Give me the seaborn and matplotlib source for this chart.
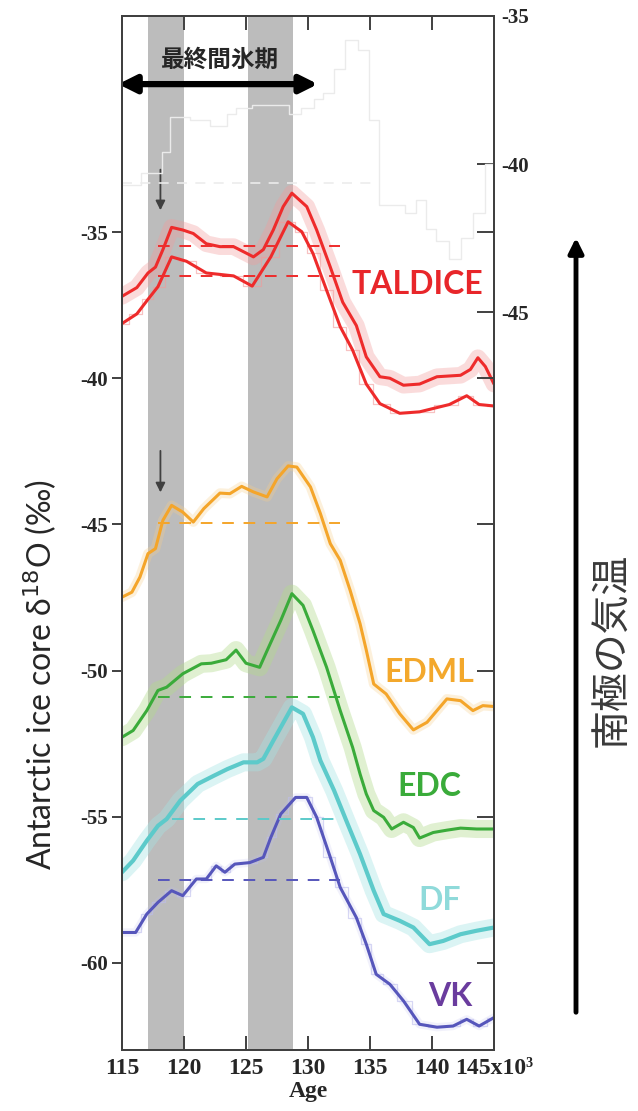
import numpy as np
import pandas as pd
import matplotlib.pyplot as plt
import seaborn as sns
from matplotlib.patches import FancyArrowPatch
from matplotlib.transforms import ScaledTranslation

# --- Datos (edad en ka, d18O en permil) ---
TALDICE_AGE = [115.0, 116.2, 117.1, 117.7, 118.3, 119.0, 119.9, 120.75, 121.8, 122.9, 124.0, 125.06,
               125.6, 126.4, 127.2, 128.0, 128.7, 129.9, 130.7, 131.8, 132.8, 133.9, 134.7, 135.8,
               136.6, 137.7, 139.0, 140.4, 142.3, 143.1, 143.7, 144.3, 145.0]
TALDICE_UP = [-37.2, -36.9, -36.4, -36.2, -35.6, -34.84, -34.93, -35.05, -35.4, -35.5, -35.5, -35.73,
              -35.85, -35.6, -34.93, -34.13, -33.67, -34.13, -34.93, -36.2, -37.4, -38.2, -39.27, -39.95,
              -40.0, -40.24, -40.2, -39.95, -39.9, -39.7, -39.3, -39.6, -40.2]
TALDICE_LOW_AGE = [115.0, 116.2, 117.1, 117.9, 119.0, 120.2, 121.8, 124.0, 125.5, 127.0, 128.4, 129.5,
                   130.4, 131.5, 132.6, 133.6, 134.7, 135.8, 137.4, 139.0, 141.4, 142.8, 143.8, 145.0]
TALDICE_LOW = [-38.13, -37.8, -37.3, -36.87, -35.85, -36.0, -36.4, -36.5, -36.85, -35.85, -34.65, -34.99,
               -35.73, -36.99, -38.24, -39.04, -40.2, -40.87, -41.2, -41.15, -40.9, -40.6, -40.9, -40.95]

EDML_AGE = [115.0, 115.8, 116.45, 117.1, 117.7, 118.3, 119.0, 119.9, 120.75, 121.6, 122.9, 123.7, 124.65,
            125.6, 126.7, 127.5, 128.4, 129.1, 130.2, 131.0, 131.8, 132.6, 133.4, 134.2, 134.7, 135.3,
            136.3, 137.4, 138.5, 139.6, 140.4, 141.2, 142.3, 143.3, 144.1, 145.0]
EDML = [-47.49, -47.32, -46.8, -46.0, -45.83, -44.86, -44.35, -44.58, -44.92, -44.46, -43.93, -43.95, -43.7,
        -43.89, -44.06, -43.44, -43.0, -43.04, -43.72, -44.63, -45.66, -46.23, -47.26, -48.4, -49.3, -50.46,
        -50.8, -51.48, -52.03, -51.77, -51.37, -50.97, -51.03, -51.37, -51.2, -51.23]

EDC_AGE = [115.0, 115.9, 117.0, 117.9, 118.6, 119.9, 121.4, 122.2, 123.4, 124.2, 125.0, 126.1, 126.7,
           127.8, 128.7, 129.6, 130.4, 131.5, 132.6, 133.6, 134.2, 134.7, 135.3, 136.1, 136.75, 137.7,
           138.5, 139.0, 140.1, 141.2, 142.3, 143.6, 145.0]
EDC = [-52.28, -52.05, -51.37, -50.68, -50.57, -50.11, -49.77, -49.75, -49.63, -49.3, -49.75, -49.89, -49.32,
       -48.29, -47.37, -47.77, -48.63, -49.89, -51.37, -52.63, -53.54, -54.22, -54.79, -55.02, -55.42, -55.19,
       -55.37, -55.73, -55.54, -55.46, -55.39, -55.42, -55.42]

DF_AGE = [115.0, 115.9, 117.0, 117.9, 118.6, 119.7, 121.1, 122.4, 123.5, 124.8, 125.9, 126.4, 127.2,
          128.7, 129.6, 130.4, 131.0, 132.1, 133.2, 134.2, 135.3, 136.1, 137.4, 138.5, 139.8, 140.9,
          142.3, 143.6, 145.0]
DF = [-56.9, -56.5, -55.82, -55.31, -55.08, -54.45, -53.88, -53.6, -53.37, -53.14, -53.14, -53.02, -52.4,
      -51.26, -51.48, -52.28, -53.08, -54.1, -55.25, -56.28, -57.53, -58.33, -58.56, -58.79, -59.36, -59.25,
      -59.02, -58.9, -58.79]

VK_AGE = [115.0, 116.1, 117.0, 117.9, 119.0, 119.9, 121.0, 121.8, 122.6, 123.3, 124.1, 125.3, 126.4,
          127.0, 127.8, 129.0, 129.9, 130.7, 131.8, 132.6, 133.9, 134.7, 135.5, 136.6, 137.7, 139.0,
          140.4, 141.7, 142.8, 143.8, 145.0]
VK = [-58.96, -58.96, -58.33, -57.93, -57.53, -57.7, -57.13, -57.13, -56.68, -56.9, -56.62, -56.57, -56.39,
      -55.71, -54.91, -54.34, -54.34, -55.02, -56.39, -57.42, -58.45, -59.36, -60.39, -60.73, -61.3, -62.1,
      -62.2, -62.16, -61.93, -62.16, -61.87]

# registro gris en escalones (eje derecho)
GREY_AGE = [115.0, 116.5, 118.2, 118.9, 120.5, 122.1, 123.5, 124.2, 125.5, 128.5, 129.4, 130.5, 131.2,
            132.1, 133.0, 134.0, 134.9, 135.7, 137.8, 138.7, 139.5, 140.3, 141.4, 142.3, 143.3, 144.3, 145.0]
GREY = [-40.7, -40.3, -39.6, -38.4, -38.5, -38.7, -38.3, -38.1, -38.0, -38.3, -38.1, -37.8, -37.6,
        -36.8, -35.8, -36.15, -38.5, -41.4, -41.65, -41.2, -42.2, -42.6, -43.2, -42.5, -41.65, -40.0, -40.0]

# niveles de referencia (lineas discontinuas): (valor, inicio, fin)
REF_LEVELS = {
    'TALDICE_up': (-35.48, 117.9, 132.6),
    'TALDICE_low': (-36.5, 117.9, 132.6),
    'EDML': (-44.94, 117.9, 132.6),
    'EDC': (-50.89, 117.9, 132.6),
    'DF': (-55.08, 119.0, 132.3),
    'VK': (-57.16, 117.9, 132.6),
}
GREY_REF = (-40.64, 115.0, 135.6)

SHADED = [(117.1, 120.0), (125.2, 128.8)]
X_TICKS = [115, 120, 125, 130, 135, 140, 145]
Y_TICKS = [-35, -40, -45, -50, -55, -60]
Y2_TICKS = [-35, -40, -45]

COLORS = {'TALDICE': '#ee2b2b', 'EDML': '#f4a52a', 'EDC': '#3aab3a', 'DF': '#5ccaca', 'VK': '#5656bb'}
HALO = {'TALDICE': '#f39a9a', 'EDML': '#f8cf8a', 'EDC': '#b2db8c', 'DF': '#a6e4e4', 'VK': '#bdbdee'}
LABEL_COLORS = {'TALDICE': '#e8262a', 'EDML': '#f3a82c', 'EDC': '#3aab3a', 'DF': '#8fdada', 'VK': '#6a3c9e'}

sns.set_style('ticks')
plt.rcParams['font.family'] = ['Liberation Serif', 'DejaVu Sans']

fig = plt.figure(figsize=(6.38, 11.11), dpi=100)
ax = fig.add_axes([0.1912, 0.0549, 0.5831, 0.9307])
YLIM = (-62.98, -27.61)
Y2LIM = (-69.93, -35.0)
ax.set_xlim(115, 145)
ax.set_ylim(*YLIM)

ax2 = ax.twinx()
ax2.set_ylim(*Y2LIM)

for a, b in SHADED:
    ax.axvspan(a, b, color='#bcbcbc', lw=0, zorder=0)

# registro gris (muy tenue)
sns.lineplot(x=GREY_AGE, y=GREY, ax=ax2, color='#ebebeb', lw=1.0, drawstyle='steps-post', zorder=1)
ax2.hlines(GREY_REF[0], GREY_REF[1], GREY_REF[2], colors='#ececec', lw=1.2, linestyles=(0, (6, 5)))


def draw_series(age, val, name, lw=2.2, halo=10.0, halo_alpha=0.35, steps=False):
    # banda tenue que imita los datos brutos
    if halo_alpha > 0:
        ax.plot(age, val, color=HALO[name], lw=halo, alpha=halo_alpha, solid_joinstyle='round', zorder=2)
    if steps:
        ax.plot(age, val, color=HALO[name], lw=0.9, alpha=0.6, drawstyle='steps-mid', zorder=2)
    sns.lineplot(x=age, y=val, ax=ax, color=COLORS[name], lw=lw, sort=False, zorder=3)
    ax.lines[-1].set_solid_joinstyle('round')


draw_series(TALDICE_AGE, TALDICE_UP, 'TALDICE', halo=12, halo_alpha=0.35)
draw_series(TALDICE_LOW_AGE, TALDICE_LOW, 'TALDICE', halo_alpha=0.0, steps=True)
draw_series(EDML_AGE, EDML, 'EDML', halo=7, halo_alpha=0.3)
draw_series(EDC_AGE, EDC, 'EDC', halo=13, halo_alpha=0.4)
draw_series(DF_AGE, DF, 'DF', lw=3.0, halo=13, halo_alpha=0.4)
draw_series(VK_AGE, VK, 'VK', halo=6, halo_alpha=0.2, steps=True)

ref_colors = {'TALDICE_up': 'TALDICE', 'TALDICE_low': 'TALDICE', 'EDML': 'EDML',
              'EDC': 'EDC', 'DF': 'DF', 'VK': 'VK'}
for key, (lvl, x0, x1) in REF_LEVELS.items():
    ax.hlines(lvl, x0, x1, colors=COLORS[ref_colors[key]], lw=1.4, linestyles=(0, (6, 5)), zorder=3)

# etiquetas de las series
label_pos = {'TALDICE': (138.8, -36.78), 'EDML': (139.8, -50.08), 'EDC': (139.8, -53.98),
             'DF': (140.6, -57.85), 'VK': (141.45, -61.16)}
for name, (xx, yy) in label_pos.items():
    ax.text(xx, yy, name, color=LABEL_COLORS[name], fontsize=23, fontweight='bold',
            family=['Lato', 'DejaVu Sans'], ha='center', va='center', zorder=5)

# flechas pequenas
for y0, y1 in [(-32.77, -34.35), (-42.39, -44.0)]:
    ax.annotate('', xy=(118.1, y1), xytext=(118.1, y0),
                arrowprops=dict(arrowstyle='-|>', color='#404040', lw=1.3, mutation_scale=14))

# periodo interglaciar
ax.annotate('', xy=(114.7, -29.94), xytext=(130.8, -29.94), annotation_clip=False,
            arrowprops=dict(arrowstyle='<|-|>', color='black', lw=4.5, mutation_scale=26,
                            shrinkA=0, shrinkB=0))
ax.text(122.9, -29.1, '最終間氷期', fontsize=17, fontweight='bold', ha='center', va='center',
        family=['Noto Sans CJK JP', 'DejaVu Sans'])

# ejes y ticks
tick_font = dict(family=['Liberation Serif'], weight='bold')
ax.set_xticks(X_TICKS)
xlabels = [str(t) for t in X_TICKS]
xlabels[-1] = '145x10³'
ax.set_xticklabels(xlabels, fontsize=17, **tick_font)
# las dos ultimas etiquetas quedan pegadas como en el original
shifts = {5: 12, 6: 22}
for i, lab in enumerate(ax.get_xticklabels()):
    if i in shifts:
        lab.set_transform(lab.get_transform() + ScaledTranslation(shifts[i] / 100, 0, fig.dpi_scale_trans))
ax.set_yticks(Y_TICKS)
ax.set_yticklabels([str(t) for t in Y_TICKS], fontsize=15, **tick_font)
ax.tick_params(axis='x', direction='in', top=True, bottom=True, length=10, width=1.4,
               color='#404040', pad=6)
ax.tick_params(axis='y', direction='out', left=True, right=False, length=7, width=1.4,
               color='#404040', pad=3)

ax2.set_yticks(Y2_TICKS)
ax2.set_yticklabels([str(t) for t in Y2_TICKS], fontsize=15, **tick_font)
mapped = [Y2LIM[0] + (v - YLIM[0]) * (Y2LIM[1] - Y2LIM[0]) / (YLIM[1] - YLIM[0]) for v in Y_TICKS]
ax2.set_yticks(mapped, minor=True)
ax2.tick_params(axis='y', which='major', direction='in', length=12, width=1.4, color='#404040', pad=5)
ax2.tick_params(axis='y', which='minor', direction='in', length=12, width=1.4, color='#404040')

for a in (ax, ax2):
    for sp in a.spines.values():
        sp.set_color('#404040')
        sp.set_linewidth(1.4)
        sp.set_visible(True)
    a.grid(False)

ax.set_xlabel('Age', fontsize=17, fontweight='bold', family=['Liberation Serif'], labelpad=1)
ax.set_ylabel('')
ax2.set_ylabel('')

fig.text(40 / 638, 1 - 675 / 1111, 'Antarctic ice core δ$^{18}$O (‰)', rotation=90, fontsize=23,
         ha='center', va='center', family=['Lato', 'DejaVu Sans'])

# flecha grande y texto japones a la derecha
fig.add_artist(FancyArrowPatch(
    (576 / 638, 1 - 1015 / 1111), (576 / 638, 1 - 235 / 1111), transform=fig.transFigure,
    arrowstyle='-|>', mutation_scale=22, lw=3.5, color='black'))
fig.text(612 / 638, 1 - 650 / 1111, '南極の気温', rotation=90, fontsize=28, color='#3a3a3a',
         ha='center', va='center', family=['Noto Sans CJK JP', 'DejaVu Sans'])

plt.savefig('out.png', dpi=100)
plt.close()
